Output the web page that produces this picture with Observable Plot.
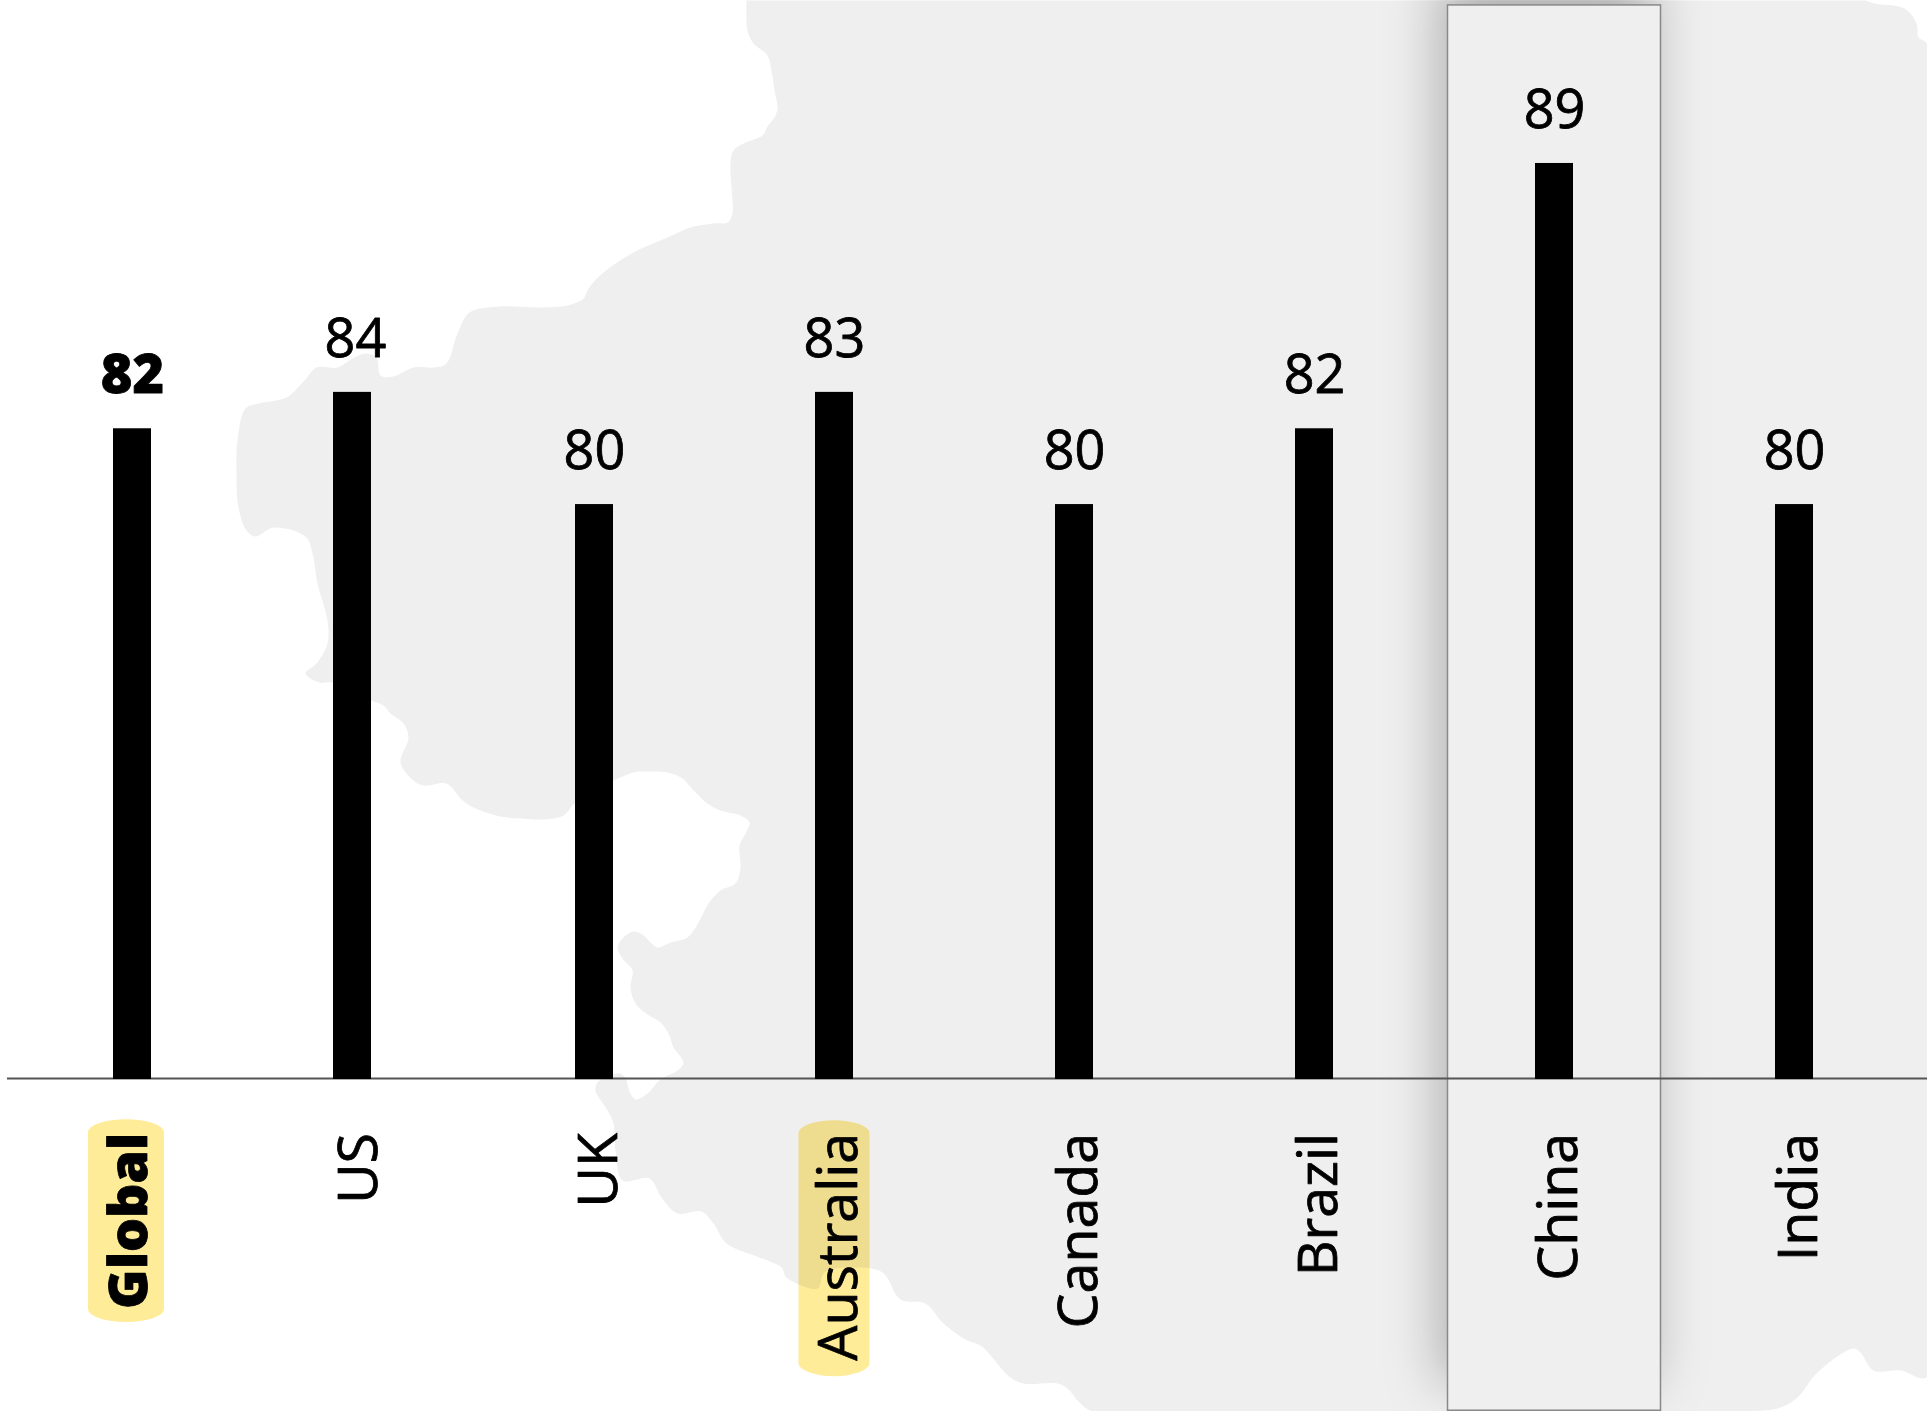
<!DOCTYPE html>
<html><head><meta charset="utf-8">
<script src="https://cdn.jsdelivr.net/npm/d3@7"></script>
<script src="https://cdn.jsdelivr.net/npm/@observablehq/plot@0.6"></script>
<style>
html,body{margin:0;padding:0;background:#fff}
#stage{width:1927px;height:1411px;overflow:hidden}
</style></head><body><div id="stage"></div>
<script>
const categories = ["Global","US","UK","Australia","Canada","Brazil","China","India"];
const barValues  = [82,82.96,80,82.96,80,82,89,80];
const valueLabels= ["82","84","80","83","80","82","89","80"];
const coastX = [746,747,753,767,771,774,777,774,767,762,743,733,730,731,732,727,713,690,667,633,603,588,583,567,540,500,469,457,446,434,413,393,380,376,365,352,337,316,304,286,258,245,237,236,238,246,255,273,305,312,317,327,327,316,305,319,332,371,383,390,403,408,400,413,423,446,461,473,500,520,543,563,574,595,613,633,647,667,682,693,707,720,740,749,745,739,740,735,720,708,698,687,670,657,650,642,633,623,617,622,632,630,635,647,660,668,673,683,677,660,647,635,630,625,620,612,597,595,607,613,615,622,649,661,677,701,713,726,759,781,786,817,824,854,882,900,925,943,967,980,1010,1023,1057,1067,1080,1093,1747,1780,1797,1817,1853,1860,1873,1900,1927,1927,1918,1916,1904,1874,1865];
const coastY = [0,30,43,55,70,90,108,117,126,135,143,150,163,187,213,222,223,227,237,252,272,288,298,305,307,306,312,333,363,367,367,376,375,357,353,358,367,367,380,397,403,408,440,473,507,530,536,527,536,553,583,620,643,663,673,682,682,700,705,713,723,737,762,780,785,783,799,807,816,818,819,815,803,790,780,772,771,772,778,790,803,810,815,822,833,845,867,883,890,903,922,937,942,947,942,934,931,937,947,958,970,987,1003,1014,1022,1033,1047,1062,1070,1079,1093,1099,1093,1078,1073,1074,1082,1090,1110,1123,1150,1180,1178,1197,1213,1211,1223,1243,1257,1267,1277,1288,1272,1267,1272,1299,1303,1323,1340,1345,1377,1383,1383,1388,1403,1411,1411,1407,1397,1372,1348,1352,1370,1370,1376,44,37,23,8,3,0];
const coast = coastX.map((x,i)=>({x,y:coastY[i]}));

const data = categories.map((name,i)=>({name,value:barValues[i],label:valueLabels[i]}));
const only = (...names)=>data.filter(d=>names.includes(d.name));
const rest = (...names)=>data.filter(d=>!names.includes(d.name));

const yMin=56.07, yMax=93.3, floor=64.83, boxTop=93.17, boxBottom=56.09, catY=63.42;

const map = Plot.plot({
  width:1927,height:1411,margin:0,
  x:{domain:[0,1927],axis:null},
  y:{domain:[1411,0],axis:null},
  marks:[Plot.line(coast,{x:"x",y:"y",fill:"#efefef",stroke:"none",curve:"catmull-rom"})]
});

const font={fontFamily:"'Open Sans'",fill:"#000",stroke:"#000"};
const bars=(rows,dx)=>Plot.barY(rows,{x:"name",y1:floor,y2:"value",fill:"#000",dx});
const nums=(rows,dx,fontWeight=400,strokeWidth=0.8)=>Plot.text(rows,{x:"name",y:"value",text:"label",dx,dy:-35.5,lineAnchor:"bottom",...font,fontSize:54,fontWeight,strokeWidth});
const cats=(rows,dx,fontWeight=400,strokeWidth=0.8,fontSize=55.5)=>Plot.text(rows,{x:"name",y:catY,text:"name",rotate:-90,textAnchor:"end",dx,...font,fontSize,fontWeight,strokeWidth});

const chart = Plot.plot({
  width:1927,height:1411,margin:0,
  x:{type:"band",domain:categories,range:[95,1813],paddingInner:0.8417,paddingOuter:0,round:false,axis:null},
  y:{domain:[yMin,yMax],axis:null},
  marks:[
    Plot.barY(only("China"),{x:"name",y1:boxBottom,y2:boxTop,fill:"#efefef",stroke:"#888",strokeWidth:1.5,insetLeft:-87.5,insetRight:-87.5,imageFilter:"drop-shadow(-8px -28px 26px rgba(0,0,0,.26))"}),
    Plot.barY(only("Global"),{x:"name",y1:58.42,y2:63.77,fill:"#ffec99",mixBlendMode:"multiply",insetLeft:-19,insetRight:-19,dx:12,rx:38,ry:13}),
    Plot.barY(only("Australia"),{x:"name",y1:56.99,y2:63.74,fill:"#ffec99",mixBlendMode:"multiply",insetLeft:-16.5,insetRight:-16.5,dx:0,rx:35.5,ry:13}),
    Plot.ruleY([floor],{stroke:"#555",strokeWidth:2,insetLeft:7,dy:-1}),
    bars(only("Global"),18),
    bars(only("US"),-2),
    bars(rest("Global","US"),0),
    nums(only("Global"),18,800,0.8),
    nums(only("US"),1),
    nums(rest("Global","US"),0),
    cats(only("Global"),15.5,800,0.8,53.5),
    cats(rest("Global"),5)
  ]
});
// The coast silhouette sits behind the chart marks in one SVG.
chart.prepend(...map.children);
document.getElementById("stage").append(chart);
</script></body></html>
